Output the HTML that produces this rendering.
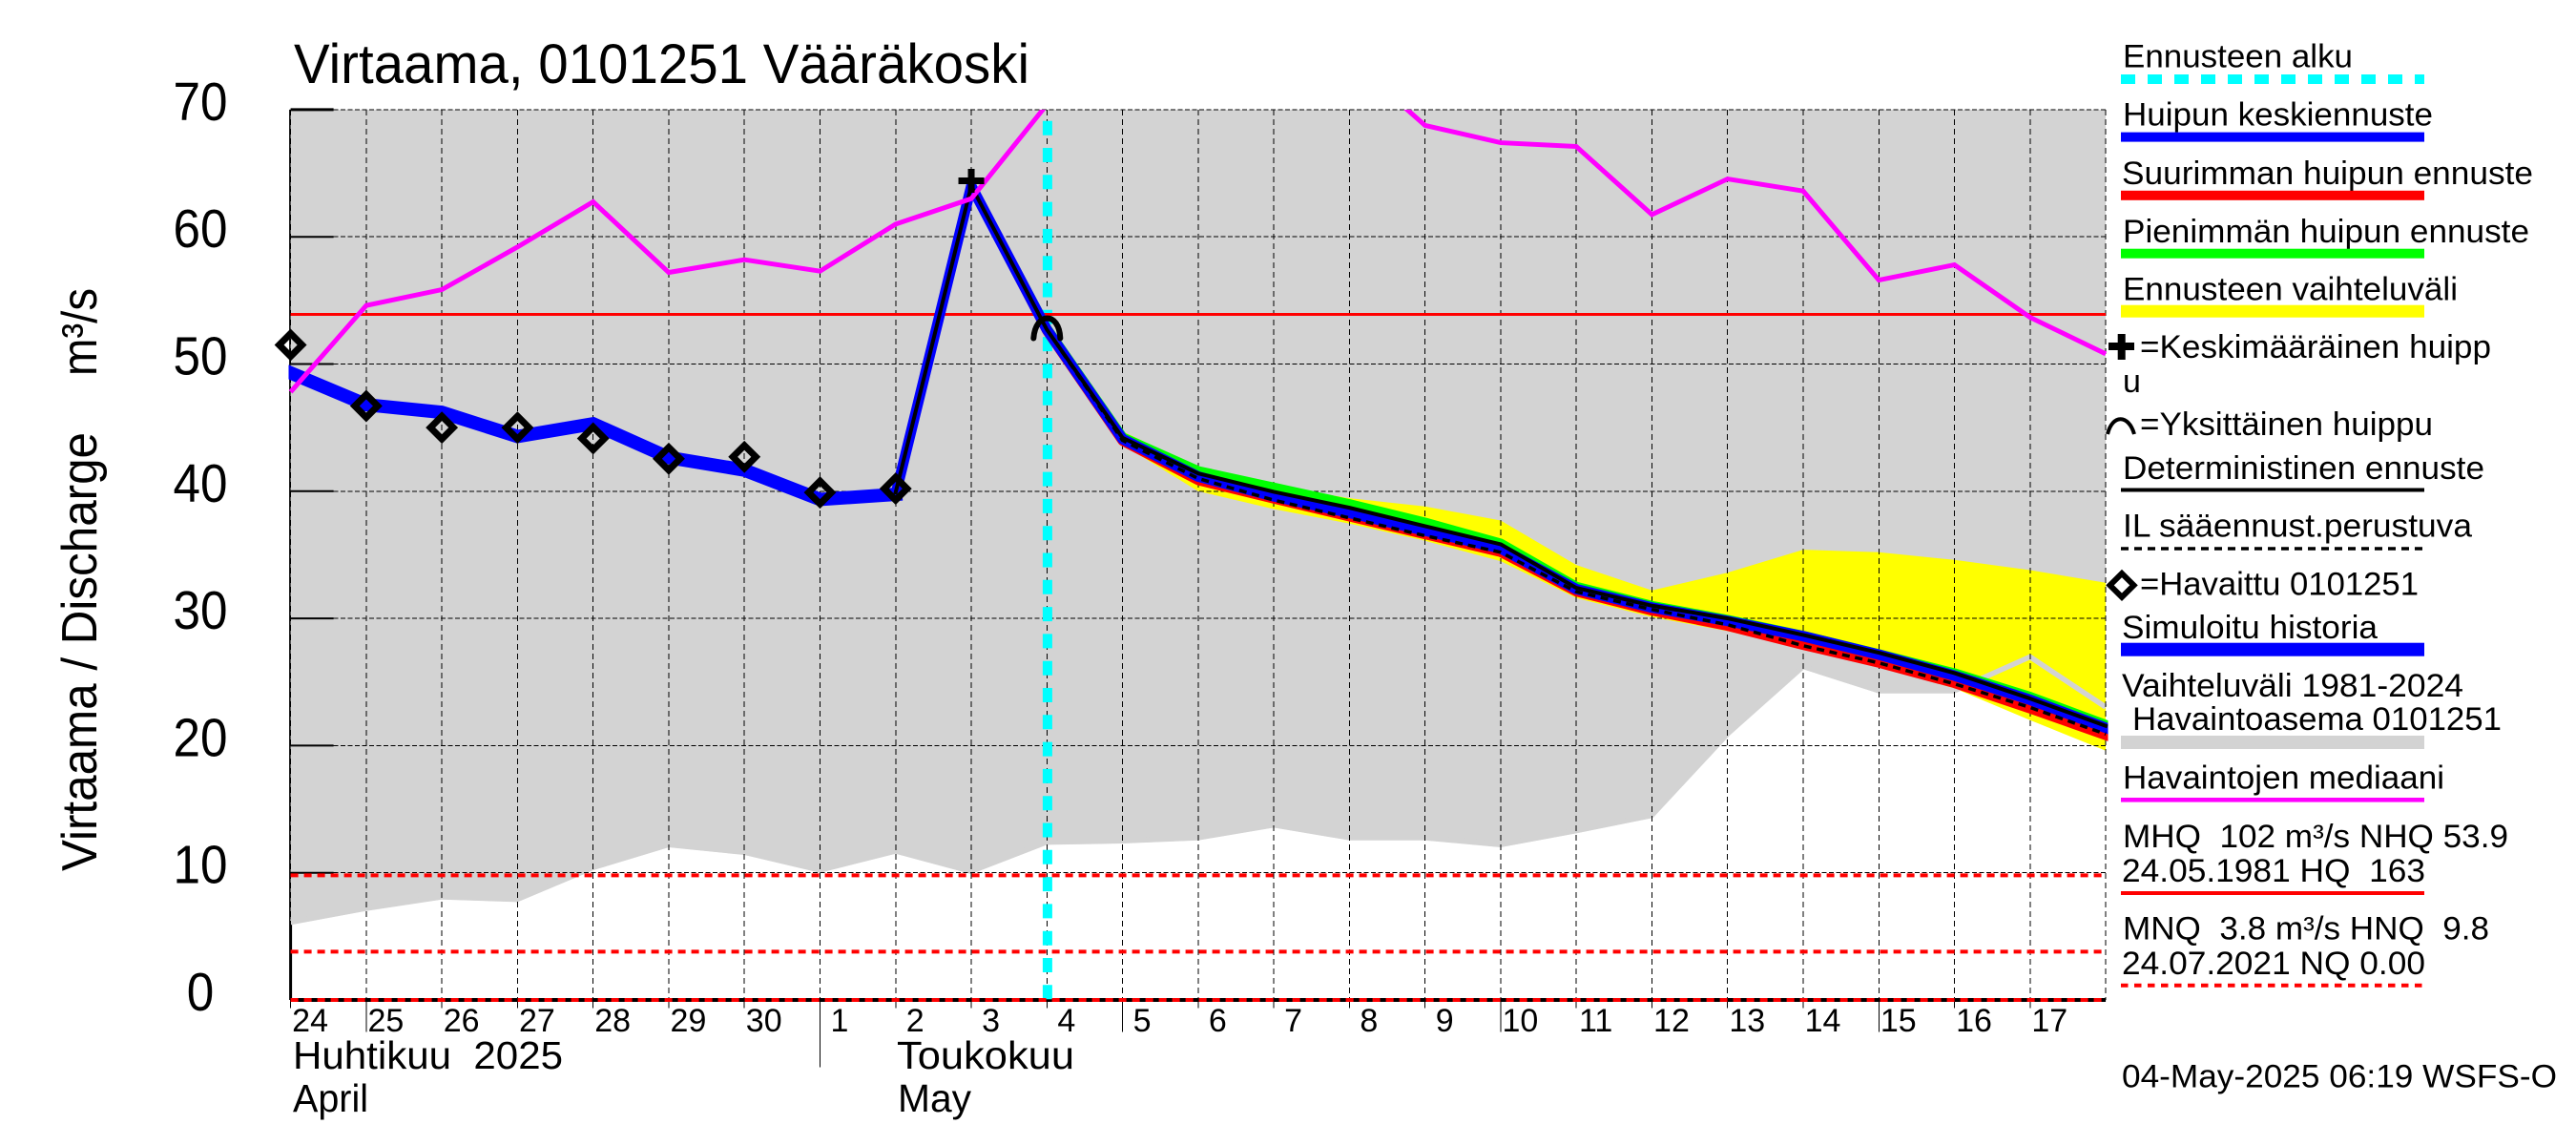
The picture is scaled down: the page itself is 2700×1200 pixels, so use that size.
<!DOCTYPE html>
<html lang="fi">
<head>
<meta charset="utf-8">
<title>Virtaama, 0101251 Vääräkoski</title>
<style>
html,body{margin:0;padding:0;background:#fff;}
svg{display:block;}
text{font-family:"Liberation Sans",sans-serif;fill:#000;}
.lg{font-size:34px;}
.mon{font-size:41px;}
</style>
</head>
<body>
<svg id="chart" xmlns="http://www.w3.org/2000/svg" width="2700" height="1200" viewBox="0 0 2700 1200">
  <rect x="0" y="0" width="2700" height="1200" fill="#ffffff"/>
  <defs>
    <clipPath id="plot-clip"><rect x="302.5" y="115" width="1907" height="935"/></clipPath>
  </defs>
  <g id="plot"></g>
  <g id="xlabels"></g>
  <g id="ylabels"></g>

  <text x="308" y="87" font-size="58" textLength="771" lengthAdjust="spacingAndGlyphs">Virtaama, 0101251 Vääräkoski</text>
  <text transform="translate(101,913) rotate(-90)" font-size="52" textLength="460" lengthAdjust="spacingAndGlyphs">Virtaama / Discharge</text>
  <text transform="translate(101,394) rotate(-90)" font-size="52" textLength="92" lengthAdjust="spacingAndGlyphs">m³/s</text>

  <text class="mon" x="307" y="1120" textLength="283" lengthAdjust="spacingAndGlyphs" xml:space="preserve">Huhtikuu  2025</text>
  <text class="mon" x="307" y="1165" textLength="79" lengthAdjust="spacingAndGlyphs">April</text>
  <text class="mon" x="940" y="1120" textLength="186" lengthAdjust="spacingAndGlyphs">Toukokuu</text>
  <text class="mon" x="941" y="1165" textLength="77" lengthAdjust="spacingAndGlyphs">May</text>

  <g>
    <text class="lg" x="2225" y="70.5" textLength="241" lengthAdjust="spacingAndGlyphs">Ennusteen alku</text>
    <line x1="2223" y1="83" x2="2541" y2="83" stroke="#00ffff" stroke-width="10" stroke-dasharray="15 13"/>
    <text class="lg" x="2225" y="131.7" textLength="325" lengthAdjust="spacingAndGlyphs">Huipun keskiennuste</text>
    <rect x="2223" y="138.6" width="318" height="10" fill="#0000ff"/>
    <text class="lg" x="2224" y="193" textLength="431" lengthAdjust="spacingAndGlyphs">Suurimman huipun ennuste</text>
    <rect x="2223" y="199.8" width="318" height="10" fill="#ff0000"/>
    <text class="lg" x="2225" y="254.2" textLength="426" lengthAdjust="spacingAndGlyphs">Pienimmän huipun ennuste</text>
    <rect x="2223" y="260.7" width="318" height="10" fill="#00ff00"/>
    <text class="lg" x="2225" y="314.7" textLength="351" lengthAdjust="spacingAndGlyphs">Ennusteen vaihteluväli</text>
    <rect x="2223" y="319.7" width="318" height="13" fill="#ffff00"/>
    <path d="M2210 363H2237M2223.7 350V377" stroke="#000" stroke-width="8" fill="none"/>
    <text class="lg" x="2243" y="375" textLength="368" lengthAdjust="spacingAndGlyphs">=Keskimääräinen huipp</text>
    <text class="lg" x="2225" y="411">u</text>
    <path d="M2209 455C2214 434 2231 434 2237 455" stroke="#000" stroke-width="4" fill="none"/>
    <text class="lg" x="2243" y="456" textLength="307" lengthAdjust="spacingAndGlyphs">=Yksittäinen huippu</text>
    <text class="lg" x="2225" y="502" textLength="379" lengthAdjust="spacingAndGlyphs">Deterministinen ennuste</text>
    <rect x="2223" y="511.5" width="318" height="4" fill="#000"/>
    <text class="lg" x="2225" y="562.7" textLength="366" lengthAdjust="spacingAndGlyphs">IL sääennust.perustuva</text>
    <line x1="2223" y1="575" x2="2541" y2="575" stroke="#000" stroke-width="3.5" stroke-dasharray="8 6"/>
    <polygon points="2224,601 2236.5,613.4 2224,625.8 2211.5,613.4" fill="none" stroke="#000" stroke-width="6"/>
    <text class="lg" x="2243" y="623.7" textLength="292" lengthAdjust="spacingAndGlyphs">=Havaittu 0101251</text>
    <text class="lg" x="2224" y="669" textLength="268" lengthAdjust="spacingAndGlyphs">Simuloitu historia</text>
    <rect x="2223" y="673.7" width="318" height="14" fill="#0000ff"/>
    <text class="lg" x="2224" y="730" textLength="358" lengthAdjust="spacingAndGlyphs">Vaihteluväli 1981-2024</text>
    <text class="lg" x="2235" y="765" textLength="387" lengthAdjust="spacingAndGlyphs">Havaintoasema 0101251</text>
    <rect x="2223" y="771" width="318" height="14" fill="#d3d3d3"/>
    <text class="lg" x="2225" y="826.6" textLength="337" lengthAdjust="spacingAndGlyphs">Havaintojen mediaani</text>
    <rect x="2223" y="836" width="318" height="4.6" fill="#ff00ff"/>
    <text class="lg" x="2225" y="887.8" textLength="404" lengthAdjust="spacingAndGlyphs" xml:space="preserve">MHQ  102 m³/s NHQ 53.9</text>
    <text class="lg" x="2224" y="923.8" textLength="318" lengthAdjust="spacingAndGlyphs" xml:space="preserve">24.05.1981 HQ  163</text>
    <rect x="2223" y="934" width="318" height="4" fill="#ff0000"/>
    <text class="lg" x="2225" y="984.6" textLength="384" lengthAdjust="spacingAndGlyphs" xml:space="preserve">MNQ  3.8 m³/s HNQ  9.8</text>
    <text class="lg" x="2224" y="1021" textLength="318" lengthAdjust="spacingAndGlyphs">24.07.2021 NQ 0.00</text>
    <line x1="2223" y1="1032.8" x2="2541" y2="1032.8" stroke="#ff0000" stroke-width="4" stroke-dasharray="7.5 6.5"/>
  </g>
  <text class="lg" x="2224" y="1139.6" textLength="456" lengthAdjust="spacingAndGlyphs">04-May-2025 06:19 WSFS-O</text>
</svg>
<script>
// ---- Chart data (one entry per day, null = no value on that day) ----
const dayLabels = ['24','25','26','27','28','29','30','1','2','3','4','5','6','7','8','9','10','11','12','13','14','15','16','17'];
const longTickDays = ['25','5','10','15'];
const monthBoundaryDays = ['1'];
const yTickValues = [0,10,20,30,40,50,60,70];
const forecastStartDay = 10;
const referenceSolid = [53.9];
const referenceDashed = [9.8,3.8,0];

const rangeLower = [5.9,7.0,7.9,7.7,10.2,12.0,11.4,10.0,11.5,9.9,12.2,12.3,12.55,13.55,12.55,12.55,12.0,13.1,14.3,20.7,26.0,24.1,24.1,26.75,22.8];
const medianFlow = [47.8,54.6,55.85,59.2,62.75,57.2,58.2,57.3,61.0,63.0,70.4,76,80,78,74.0,68.76,67.4,67.1,61.75,64.55,63.6,56.6,57.8,53.67,50.8];
const simulatedHistory = [49.3,46.8,46.2,44.3,45.3,42.65,41.66,39.35,39.75,null,null,null,null,null,null,null,null,null,null,null,null,null,null,null,null];
const observedFlow = [51.5,46.7,45.0,45.0,44.15,42.55,42.7,39.9,40.2,null,null,null,null,null,null,null,null,null,null,null,null,null,null,null,null];
const rangeForecastTop = [null,null,null,null,null,null,null,null,null,null,52.7,44.7,41.9,40.45,39.45,38.8,37.7,34.2,32.2,33.6,35.4,35.2,34.6,33.8,32.8];
const rangeForecastBottom = [null,null,null,null,null,null,null,null,null,null,52.7,43.65,40.0,38.6,37.45,36.1,34.5,31.6,30.1,29.0,27.6,26.2,24.5,22.0,19.6];
const minPeakForecast = [null,null,null,null,null,null,null,null,39.75,64,52.8,44.25,41.6,40.3,39.0,37.55,35.9,32.5,31.0,29.9,28.65,27.2,25.7,23.85,21.65];
const maxPeakForecast = [null,null,null,null,null,null,null,null,39.75,64,52.6,43.95,40.85,39.4,38.0,36.6,35.2,32.1,30.6,29.4,27.9,26.5,24.9,22.9,20.8];
const centralPeakForecast = [null,null,null,null,null,null,null,null,39.75,64,52.7,44.1,41.15,39.6,38.3,36.9,35.5,32.3,30.85,29.8,28.6,27.15,25.5,23.6,21.4];
const deterministicForecast = [null,null,null,null,null,null,null,null,39.9,64,52.7,44.2,41.4,39.95,38.7,37.25,35.83,32.4,31.0,30.0,28.7,27.3,25.7,23.7,21.55];
const ilForecast = [null,null,null,null,null,null,null,null,null,null,52.7,44.0,41.0,39.3,37.9,36.5,35.2,32.1,30.7,29.5,27.85,26.5,24.85,23.0,20.9];
const meanPeak = [{day:9,value:64.4}];
const singlePeak = [{day:10,value:52.7}];

// ---- Axis functions ----
const X0 = 304.6, DX = 79.27, Y0 = 1048, DY = 13.33, YMAX = 70, LAST = 24;
function xScale(i){ return X0 + DX * i; }
function yScale(v){ return Y0 - DY * v; }

const NS = 'http://www.w3.org/2000/svg';
const plot = document.getElementById('plot');
const xlabels = document.getElementById('xlabels');
const ylabels = document.getElementById('ylabels');
function add(tag, attrs, parent){
  const node = document.createElementNS(NS, tag);
  for (const k in attrs) node.setAttribute(k, attrs[k]);
  (parent || plot).appendChild(node);
  return node;
}
function linePath(values){
  let d = '', pen = false;
  values.forEach(function(v,i){
    if (v === null) { pen = false; return; }
    d += (pen ? 'L' : 'M') + xScale(i).toFixed(2) + ' ' + yScale(v).toFixed(2);
    pen = true;
  });
  return d;
}
function bandPoints(top, bottom){
  const a = [], b = [];
  top.forEach(function(v,i){
    if (v !== null && bottom[i] !== null) {
      a.push(xScale(i).toFixed(2) + ',' + yScale(v).toFixed(2));
      b.unshift(xScale(i).toFixed(2) + ',' + yScale(bottom[i]).toFixed(2));
    }
  });
  return a.concat(b).join(' ');
}
let el;

// Solid axes sit under the grey range
el = add('line', {x1:X0, y1:yScale(YMAX), x2:X0, y2:Y0, stroke:'#000', 'stroke-width':3});


el = add('line', {x1:X0, y1:Y0, x2:xScale(LAST), y2:Y0, stroke:'#000', 'stroke-width':4});



// Historic range band
el = add('polygon', {points: bandPoints(rangeLower.map(function(){ return YMAX; }), rangeLower), fill:'#d3d3d3'});



// Forecast range band
el = add('polygon', {points: bandPoints(rangeForecastTop, rangeForecastBottom), fill:'#ffff00'});



// Lower edge of the historic range is stroked over the forecast band
el = add('path', {d: linePath(rangeLower), fill:'none', stroke:'#d3d3d3', 'stroke-width':5.5, transform:'translate(0,-3)', 'clip-path':'url(#plot-clip)'});



// Vertical grid and ticks
for (let i = 0; i <= LAST; i++) {
  el = add('line', {x1:xScale(i), y1:yScale(YMAX), x2:xScale(i), y2:Y0, stroke:'#000', 'stroke-width':1, 'stroke-dasharray':'6 4', 'shape-rendering':'crispEdges'});
  
  
  if (i < dayLabels.length) {
    const isMonth = monthBoundaryDays.indexOf(dayLabels[i]) >= 0;
    const isLong = longTickDays.indexOf(dayLabels[i]) >= 0;
    el = add('line', {x1:xScale(i), y1:Y0, x2:xScale(i), y2:isMonth ? 1118.5 : (isLong ? 1081.5 : 1056.7), stroke:'#000', 'stroke-width':1, 'shape-rendering':'crispEdges'});
    
    
    el = add('text', {x:xScale(i) + 20.5, y:1081, 'font-size':34, 'text-anchor':'middle'}, xlabels);
    
    
    el.textContent = dayLabels[i];
  }
}

// Horizontal grid, ticks and labels
yTickValues.forEach(function(v){
  if (v > 0) {
    el = add('line', {x1:X0, y1:yScale(v), x2:xScale(LAST), y2:yScale(v), stroke:'#000', 'stroke-width':1, 'stroke-dasharray':'5 2.5', 'shape-rendering':'crispEdges'});
    
    
    el = add('line', {x1:X0, y1:yScale(v), x2:X0 + 45, y2:yScale(v), stroke:'#000', 'stroke-width':v === YMAX ? 3 : 2});
    
    
  }
  const label = String(v);
  el = add('text', {x:210, y:yScale(v) + 11, 'font-size':57, 'text-anchor':'middle', textLength:label.length * 28.5, lengthAdjust:'spacingAndGlyphs'}, ylabels);
  
  
  el.textContent = label;
});

// Forecast start marker
el = add('line', {x1:xScale(forecastStartDay) + 0.6, y1:126.7, x2:xScale(forecastStartDay) + 0.6, y2:Y0, stroke:'#00ffff', 'stroke-width':10, 'stroke-dasharray':'15 13.3'});



// Reference levels
referenceSolid.forEach(function(v){
  el = add('line', {x1:X0, y1:yScale(v), x2:xScale(LAST), y2:yScale(v), stroke:'#ff0000', 'stroke-width':3});
  
  
});
referenceDashed.forEach(function(v){
  el = add('line', {x1:X0, y1:yScale(v), x2:xScale(LAST), y2:yScale(v), stroke:'#ff0000', 'stroke-width':4, 'stroke-dasharray':'8 6'});
  
  
});

// Simulated history and forecast lines
el = add('path', {d: linePath(simulatedHistory), fill:'none', stroke:'#0000ff', 'stroke-width':14, 'stroke-linecap':'square', 'clip-path':'url(#plot-clip)'});


el = add('path', {d: linePath(minPeakForecast), fill:'none', stroke:'#00ff00', 'stroke-width':10, 'stroke-linejoin':'round', 'stroke-linecap':'square', 'clip-path':'url(#plot-clip)'});


el = add('path', {d: linePath(maxPeakForecast), fill:'none', stroke:'#ff0000', 'stroke-width':10, 'stroke-linejoin':'round', 'stroke-linecap':'square', 'clip-path':'url(#plot-clip)'});


el = add('path', {d: linePath(centralPeakForecast), fill:'none', stroke:'#0000ff', 'stroke-width':11, 'stroke-linejoin':'round', 'stroke-linecap':'square', 'clip-path':'url(#plot-clip)'});


el = add('path', {d: linePath(deterministicForecast), fill:'none', stroke:'#000', 'stroke-width':4, 'stroke-linejoin':'round', 'stroke-linecap':'square', 'clip-path':'url(#plot-clip)'});


el = add('path', {d: linePath(ilForecast), fill:'none', stroke:'#000', 'stroke-width':3.5, 'stroke-dasharray':'8 5.7', 'stroke-linejoin':'round', 'clip-path':'url(#plot-clip)'});



// Observed median
el = add('path', {d: linePath(medianFlow), fill:'none', stroke:'#ff00ff', 'stroke-width':5, 'clip-path':'url(#plot-clip)'});



// Observations
observedFlow.forEach(function(v,i){
  if (v === null) return;
  const cx = xScale(i), cy = yScale(v);
  const pts = [cx, cy - 12, cx + 12, cy, cx, cy + 12, cx - 12, cy].join(' ');
  el = add('polygon', {points: pts, fill:'none', stroke:'#000', 'stroke-width':7});
  
  
});

// Peak markers
meanPeak.forEach(function(p){
  const cx = xScale(p.day), cy = yScale(p.value);
  el = add('path', {d:'M' + (cx - 13.5) + ' ' + cy + 'H' + (cx + 13.5) + 'M' + cx + ' ' + (cy - 12.5) + 'V' + (cy + 12.5), stroke:'#000', 'stroke-width':7, fill:'none'});
  
  
});
singlePeak.forEach(function(p){
  const cx = xScale(p.day), cy = yScale(p.value);
  el = add('path', {d:'M' + (cx - 14) + ' ' + (cy + 9) + 'C' + (cx - 12) + ' ' + (cy - 19) + ' ' + (cx + 13) + ' ' + (cy - 19) + ' ' + (cx + 14) + ' ' + (cy + 9), stroke:'#000', 'stroke-width':6, fill:'none', 'stroke-linecap':'round'});
  
  
});
</script>
</body>
</html>
